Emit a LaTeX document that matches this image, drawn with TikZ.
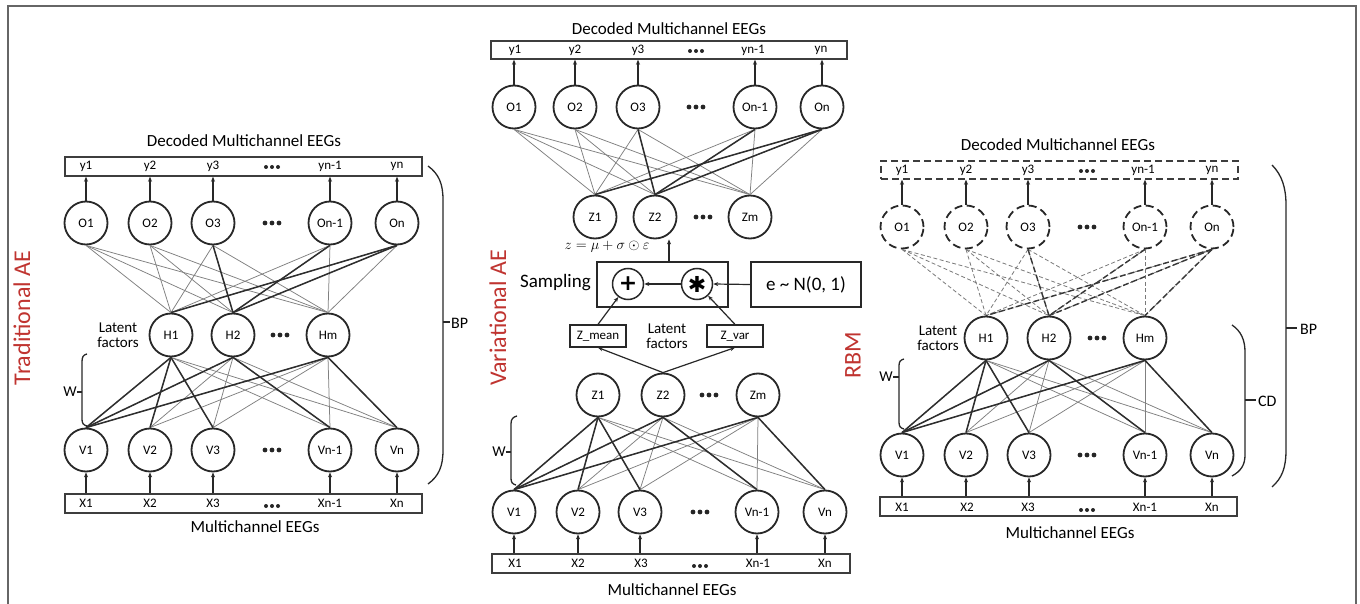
\documentclass[tikz,border=0pt]{standalone}
\usepackage[no-math]{fontspec}
\setmainfont{Carlito}
\newfontfamily\djv{DejaVu Sans}
\usetikzlibrary{arrows.meta,calc}
\definecolor{aered}{RGB}{192,52,48}
\definecolor{lc}{RGB}{40,40,40}
\begin{document}
\begin{tikzpicture}[x=1pt,y=-1pt,
  neuron/.style={circle,draw=lc,line width=1.8pt,minimum size=43pt,inner sep=0pt,font=\fontsize{13}{13}\selectfont},
  dneuron/.style={neuron,dash pattern=on 8pt off 4.5pt},
  vbox/.style={draw=lc!90,line width=1.4pt,minimum height=19pt,inner sep=0pt},
  lbl/.style={font=\fontsize{13}{13}\selectfont,inner sep=0pt},
  ttl/.style={font=\fontsize{17}{17}\selectfont,inner sep=0pt},
  lat/.style={font=\fontsize{15}{15.5}\selectfont,align=center,inner sep=0pt},
  wthin/.style={draw=black!50,line width=0.75pt},
  wthick/.style={draw=black!82,line width=1.5pt},
  dthin/.style={draw=black!52,line width=0.8pt,dash pattern=on 4pt off 2.5pt},
  dthick/.style={draw=black!78,line width=1.4pt,dash pattern=on 6pt off 3pt},
  arr/.style={-{Stealth[length=5pt,width=4pt]},line width=1.2pt,draw=lc},
  brk/.style={draw=lc,line width=1.3pt},
  opc/.style={circle,draw=lc,line width=1.5pt,minimum size=31pt,inner sep=0pt,font=\djv\bfseries\fontsize{22}{22}\selectfont},
  redlbl/.style={text=aered,font=\fontsize{24}{24}\selectfont,rotate=90,inner sep=0pt},
  side/.style={font=\fontsize{16}{16}\selectfont,inner sep=0pt,anchor=west},
  dddl/.pic={\foreach \d in {-7,0,7} \fill[black!85] (\d,0) circle[radius=2.4pt];},
  ddds/.pic={\foreach \d in {-6,0,6} \fill[black!85] (\d,0) circle[radius=2pt];}
]
\fill[white] (0,0) rectangle (1360,604);
\useasboundingbox (0,0) rectangle (1360,604);
% outer frame (open at the bottom)
\draw[line width=1.5pt,draw=black!60] (8,604) -- (8,6) -- (1356,6) -- (1356,604);

%================ LEFT: Traditional AE =================
\node[redlbl] (Lname) at (22,318) {Traditional AE};
\node[ttl] (Lt) at (244,141) {Decoded Multichannel EEGs};
\node[vbox,minimum width=357pt] (Ly) at (243.5,166.5) {};
\foreach \n/\x/\t in {1/86/y1,2/150/y2,3/213/y3,4/330/yn-1,5/397/yn}
  \node[lbl] (Lyl\n) at (\x,166) {\t};
\pic at (272,167) {ddds};
\foreach \n/\x/\t in {1/86/O1,2/150/O2,3/213/O3,4/330/On-1,5/397/On}{
  \node[neuron] (LO\n) at (\x,223) {\t};
  \draw[arr] (LO\n) -- (LO\n |- Ly.south);}
\pic at (272,223) {dddl};
\foreach \n/\x/\t in {1/171/H1,2/233/H2,3/328/Hm}
  \node[neuron] (LH\n) at (\x,335) {\t};
\pic at (280,335) {dddl};
\node[lat] (Llat) at (118,335) {Latent\\factors};
\node[vbox,minimum width=357pt] (Lx) at (243.5,503.5) {};
\foreach \n/\x/\t in {1/86/V1,2/150/V2,3/213/V3,4/330/Vn-1,5/397/Vn}{
  \node[neuron] (LV\n) at (\x,450) {\t};
  \draw[arr] (Lx.north -| LV\n) -- (LV\n);}
\pic at (272,450) {dddl};
\foreach \n/\x/\t in {1/86/X1,2/150/X2,3/213/X3,4/330/Xn-1,5/397/Xn}
  \node[lbl] (Lxl\n) at (\x,503) {\t};
\pic at (272,506) {ddds};
\node[ttl] (Lm) at (255,527) {Multichannel EEGs};
\foreach \a in {1,...,5} \foreach \b in {1,2,3} \draw[wthin] (LO\a.south) -- (LH\b.north);
\foreach \a/\b in {3/2,4/2,5/1,5/2} \draw[wthick] (LO\a.south) -- (LH\b.north);
\foreach \a in {1,2,3} \foreach \b in {1,...,5} \draw[wthin] (LH\a.south) -- (LV\b.north);
\foreach \a/\b in {1/1,1/2,1/3,2/1,2/4,3/1,3/5} \draw[wthick] (LH\a.south) -- (LV\b.north);
% W bracket
\draw[brk] (87,354) .. controls (83,355) and (82,357) .. (82,362) -- (82,419) .. controls (82,423) and (83,425) .. (87,426);
\draw[brk] (82,392) -- (77,392);
\node[lbl,anchor=east,font=\fontsize{15}{15}\selectfont] (LW) at (77,392) {W};
% BP bracket
\draw[brk] (428,166) .. controls (439,174) and (443,184) .. (443,200) -- (443,450) .. controls (443,466) and (439,476) .. (428,484);
\draw[brk] (443,322) -- (450,322);
\node[side] (LBP) at (451,323) {BP};

%================ MIDDLE: Variational AE =================
\node[redlbl] (Mname) at (498,318) {Variational AE};
\node[ttl] (Mt) at (669,29) {Decoded Multichannel EEGs};
\node[vbox,minimum width=356pt,minimum height=18pt] (My) at (669,50) {};
\foreach \n/\x/\t in {1/515/y1,2/575/y2,3/638/y3,4/753/yn-1,5/821/yn}
  \node[lbl] (Myl\n) at (\x,50) {\t};
\pic at (696,51) {ddds};
\foreach \n/\x/\t in {1/514/O1,2/575/O2,3/638/O3,4/755/On-1,5/822/On}{
  \node[neuron] (MO\n) at (\x,107) {\t};
  \draw[arr] (MO\n) -- (MO\n |- My.south);}
\pic at (696,107) {dddl};
\foreach \n/\x/\t in {1/595/Z1,2/655/Z2,3/750/Zm}
  \node[neuron] (MZu\n) at (\x,217) {\t};
\pic at (703,217) {dddl};
\foreach \a in {1,...,5} \foreach \b in {1,2,3} \draw[wthin] (MO\a.south) -- (MZu\b.north);
\foreach \a/\b in {3/2,4/2,5/1,5/2} \draw[wthick] (MO\a.south) -- (MZu\b.north);
% sampling
\node[inner sep=0pt,font=\fontsize{15}{15}\selectfont] (form) at (607,247) {$z=\mu+\sigma\odot\varepsilon$};
\node[draw=lc,line width=1.8pt,minimum width=131pt,minimum height=45pt,inner sep=0pt] (samp) at (662.5,284.5) {};
\node[font=\fontsize{19}{19}\selectfont,inner sep=0pt,anchor=east] (sl) at (591,283) {Sampling};
\node[opc] (pl) at (628,284) {+};
\node[opc] (st) at (697,284) {✱};
\node[draw=lc,line width=1.8pt,minimum width=110pt,minimum height=45pt,inner sep=0pt,font=\fontsize{19}{19}\selectfont] (eb) at (806,284.5) {e \textasciitilde{} N(0, 1)};
\draw[arr] (eb.west) -- (st.east);
\draw[arr] (st.west) -- (pl.east);
\coordinate (sa) at ([xshift=6.5pt]samp.north);
\draw[arr] (sa) -- (sa |- MZu2.south);
\node[draw=lc,line width=1.2pt,minimum width=56pt,minimum height=22pt,inner sep=0pt,font=\fontsize{13}{13}\selectfont] (zm) at (598,336) {Z\_mean};
\node[draw=lc,line width=1.2pt,minimum width=56pt,minimum height=22pt,inner sep=0pt,font=\fontsize{13}{13}\selectfont] (zv) at (735,336) {Z\_var};
\node[lat] (Mlat) at (667,336) {Latent\\factors};
\draw[arr] (zm.north) -- (pl);
\draw[arr] (zv.north) -- (st);
\foreach \n/\x/\t in {1/598/Z1,2/663/Z2,3/758/Zm}
  \node[neuron] (MZl\n) at (\x,395) {\t};
\pic at (709,395) {dddl};
\draw[arr] (MZl2.north) -- (zm.south);
\draw[arr] (MZl2.north) -- (zv.south);
\node[vbox,minimum width=358pt] (Mx) at (671,563.5) {};
\foreach \n/\x/\t in {1/514/V1,2/578/V2,3/640/V3,4/757/Vn-1,5/825/Vn}{
  \node[neuron] (MV\n) at (\x,512) {\t};
  \draw[arr] (Mx.north -| MV\n) -- (MV\n);}
\pic at (700,512) {dddl};
\foreach \n/\x/\t in {1/515/X1,2/578/X2,3/641/X3,4/758/Xn-1,5/825/Xn}
  \node[lbl] (Mxl\n) at (\x,563) {\t};
\pic at (700,566) {ddds};
\node[ttl] (Mm) at (672,590) {Multichannel EEGs};
\foreach \a in {1,2,3} \foreach \b in {1,...,5} \draw[wthin] (MZl\a.south) -- (MV\b.north);
\foreach \a/\b in {1/1,1/2,1/3,2/1,2/4,3/1,3/5} \draw[wthick] (MZl\a.south) -- (MV\b.north);
\draw[brk] (517,416) .. controls (513,417) and (511,419) .. (511,424) -- (511,478) .. controls (511,482) and (512,484) .. (516,485);
\draw[brk] (511,452) -- (506,452);
\node[lbl,anchor=east,font=\fontsize{15}{15}\selectfont] (MW) at (506,452) {W};

%================ RIGHT: RBM =================
\node[redlbl] (Rname) at (853,355) {RBM};
\node[ttl] (Rt) at (1058,145) {Decoded Multichannel EEGs};
\node[vbox,minimum width=357pt,minimum height=18pt,dash pattern=on 7pt off 4pt] (Ry) at (1059.5,170) {};
\foreach \n/\x/\t in {1/902/y1,2/966/y2,3/1028/y3,4/1143/yn-1,5/1212/yn}
  \node[lbl] (Ryl\n) at (\x,170) {\t};
\pic at (1087,171) {ddds};
\foreach \n/\x/\t in {1/902/O1,2/966/O2,3/1028/O3,4/1145/On-1,5/1212/On}{
  \node[dneuron] (RO\n) at (\x,227) {\t};
  \draw[arr] (RO\n) -- (RO\n |- Ry.south);}
\pic at (1087,227) {dddl};
\foreach \n/\x/\t in {1/986/H1,2/1049/H2,3/1145/Hm}
  \node[neuron] (RH\n) at (\x,338) {\t};
\pic at (1097,338) {dddl};
\node[lat] (Rlat) at (938,338) {Latent\\factors};
\node[vbox,minimum width=357pt] (Rx) at (1058.5,506.5) {};
\foreach \n/\x/\t in {1/902/V1,2/966/V2,3/1029/V3,4/1145/Vn-1,5/1212/Vn}{
  \node[neuron] (RV\n) at (\x,455) {\t};
  \draw[arr] (Rx.north -| RV\n) -- (RV\n);}
\pic at (1087,455) {dddl};
\foreach \n/\x/\t in {1/902/X1,2/967/X2,3/1028/X3,4/1145/Xn-1,5/1212/Xn}
  \node[lbl] (Rxl\n) at (\x,507) {\t};
\pic at (1087,510) {ddds};
\node[ttl] (Rm) at (1070,533) {Multichannel EEGs};
\foreach \a in {1,...,5} \foreach \b in {1,2,3} \draw[dthin] (RO\a.south) -- (RH\b.north);
\foreach \a/\b in {3/2,4/2,5/1,5/2,5/3} \draw[dthick] (RO\a.south) -- (RH\b.north);
\foreach \a in {1,2,3} \foreach \b in {1,...,5} \draw[wthin] (RH\a.south) -- (RV\b.north);
\foreach \a/\b in {1/1,1/2,1/3,2/1,2/4,3/1,3/5} \draw[wthick] (RH\a.south) -- (RV\b.north);
% W bracket
\draw[brk] (904,359) .. controls (900,360) and (899,362) .. (899,366) -- (899,422) .. controls (899,426) and (900,428) .. (904,429);
\draw[brk] (899,377) -- (893,377);
\node[lbl,anchor=east,font=\fontsize{15}{15}\selectfont] (RW) at (893,377) {W};
% CD bracket
\draw[brk] (1232,325) .. controls (1241,331) and (1245,340) .. (1245,352) -- (1245,455) .. controls (1245,465) and (1241,471) .. (1232,476);
\draw[brk] (1245,400) -- (1256,400);
\node[side] (RCD) at (1258,401) {CD};
% BP bracket
\draw[brk] (1272,165) .. controls (1282,175) and (1286,188) .. (1286,205) -- (1286,450) .. controls (1286,468) and (1282,478) .. (1272,487);
\draw[brk] (1286,328) -- (1297,328);
\node[side] (RBP) at (1300,329) {BP};
\end{tikzpicture}
\end{document}
